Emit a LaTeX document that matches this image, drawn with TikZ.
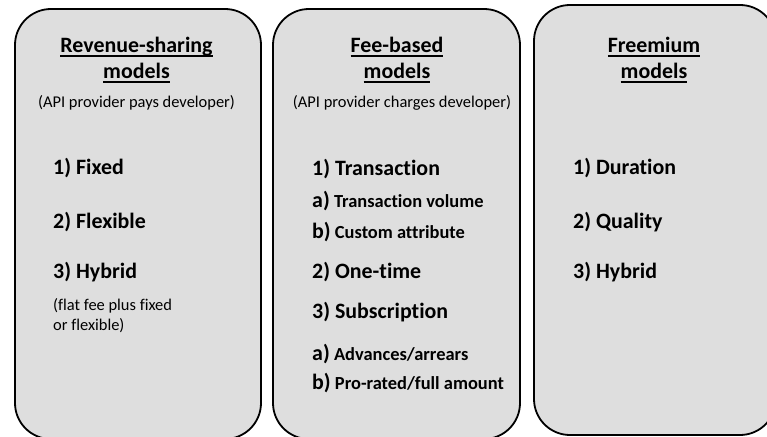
\documentclass[tikz,border=0pt]{standalone}
\usepackage{fontspec}
\setmainfont{Carlito}[Ligatures={NoCommon}]
\definecolor{panelgray}{RGB}{222,222,222}
\newsavebox\ulbox
% underline at a fixed depth below the baseline, through descenders
\newcommand\ulbar[1]{\sbox\ulbox{#1}\rlap{\rule[-4.2bp]{\wd\ulbox}{1.4bp}}\usebox\ulbox}
\begin{document}
\begin{tikzpicture}[x=1bp,y=-1bp,
  panel/.style={draw=black, line width=1.8bp, fill=panelgray, rounded corners=36bp,
    rectangle, inner sep=0pt, minimum height=430bp},
  title/.style={anchor=base, inner sep=0pt, font=\fontsize{22}{26}\selectfont\bfseries},
  note/.style={anchor=base, inner sep=0pt, font=\fontsize{16.5}{20}\selectfont},
  notes/.style={anchor=base west, inner sep=0pt, font=\fontsize{16.5}{20}\selectfont},
  item/.style={anchor=base west, inner sep=0pt, font=\fontsize{22}{26}\selectfont\bfseries},
  subitem/.style={anchor=base west, inner sep=0pt, font=\fontsize{18.5}{22}\selectfont\bfseries}]
\useasboundingbox (0,0) rectangle (767,437);
\fill[white] (0,0) rectangle (767,437);
\clip (0,0) rectangle (767,437);

% the three panels
\node[panel, minimum width=246bp] (rev)  at (138,224) {};
\node[panel, minimum width=247bp] (fee)  at (396.5,224) {};
\node[panel, minimum width=242bp] (free) at (655,220) {};

% revenue-sharing models
\node[title] (revA) at (136.5,52.5) {\ulbar{Revenue-sharing}};
\node[title] (revB) at (136.5,78.5) {\ulbar{models}};
\node[note]  (revN) at (136.5,108) {(API provider pays developer)};
\node[item]  (rev1) at (53,175) {1) Fixed};
\node[item]  (rev2) at (53,228.5) {2) Flexible};
\node[item]  (rev3) at (53,278.5) {3) Hybrid};
\node[notes] (rev3n) at (53,310.7) {(flat fee plus fixed};
\node[notes] (rev3m) at (53,330.7) {or flexible)};

% fee-based models
\node[title] (feeA) at (397,52.5) {\ulbar{Fee-based}};
\node[title] (feeB) at (397,78.5) {\ulbar{models}};
\node[note]  (feeN) at (402,108) {(API provider charges developer)};
\node[item]    (fee1)  at (312,175.5) {1) Transaction};
\node[subitem] (fee1a) at (312,207.7) {{\fontsize{22}{26}\selectfont a)} Transaction volume};
\node[subitem] (fee1b) at (312,238.3) {{\fontsize{22}{26}\selectfont b)} Custom attribute};
\node[item]    (fee2)  at (312,278.5) {2) One-time};
\node[item]    (fee3)  at (312,319) {3) Subscription};
\node[subitem] (fee3a) at (312,360.5) {{\fontsize{22}{26}\selectfont a)} Advances/arrears};
\node[subitem] (fee3b) at (312,389.5) {{\fontsize{22}{26}\selectfont b)} Pro-rated/full amount};

% freemium models
\node[title] (freeA) at (654,52.5) {\ulbar{Freemium}};
\node[title] (freeB) at (654,78.5) {\ulbar{models}};
\node[item]  (free1) at (573,175) {1) Duration};
\node[item]  (free2) at (573,228.5) {2) Quality};
\node[item]  (free3) at (573,279) {3) Hybrid};
\end{tikzpicture}
\end{document}
